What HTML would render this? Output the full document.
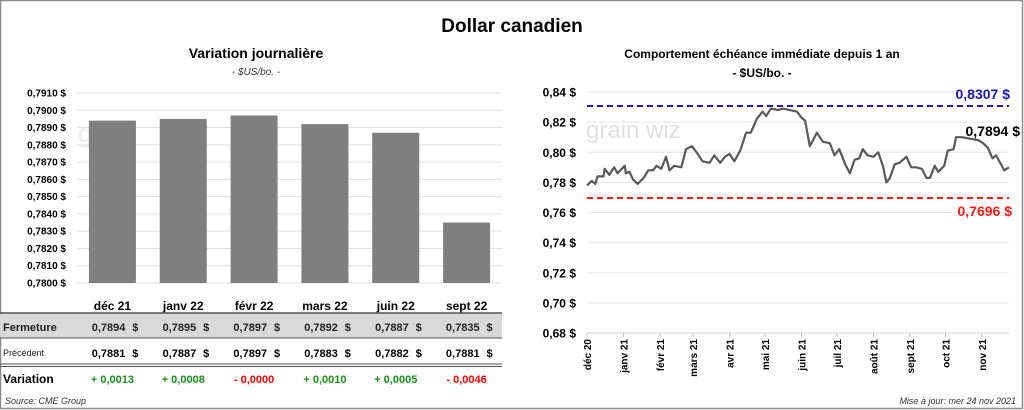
<!DOCTYPE html>
<html><head><meta charset="utf-8"><style>
body{margin:0;background:#fff}
svg{display:block;font-family:"Liberation Sans",sans-serif}
</style></head><body>
<svg id="s" width="1024" height="410" viewBox="0 0 1024 410" xmlns="http://www.w3.org/2000/svg">
<rect x="0.5" y="0.5" width="1022" height="408" fill="#fff" stroke="#8c8c8c" stroke-width="1.5"/>
<text x="512" y="32" font-size="19" font-weight="bold" text-anchor="middle">Dollar canadien</text>
<text x="256" y="58" font-size="14" font-weight="bold" text-anchor="middle">Variation  journalière</text>
<text x="256" y="75" font-size="10" font-style="italic" text-anchor="middle" fill="#333">- $US/bo. -</text>
<text x="762" y="58" font-size="12" font-weight="bold" text-anchor="middle">Comportement échéance immédiate depuis 1 an</text>
<text x="762" y="77" font-size="12" font-weight="bold" text-anchor="middle">- $US/bo. -</text>
<g id="left"></g>
<g id="right"></g>
<text x="5" y="404" font-size="9" font-style="italic" fill="#333">Source: CME Group</text>
<text x="1016" y="404" font-size="9" font-style="italic" fill="#333" text-anchor="end">Mise à jour: mer 24 nov 2021</text>
</svg>
<script>
const barCats=["déc 21","janv 22","févr 22","mars 22","juin 22","sept 22"];
const closeVals=[0.7894,0.7895,0.7897,0.7892,0.7887,0.7835];
const prevVals=[0.7881,0.7887,0.7897,0.7883,0.7882,0.7881];
const varVals=[0.0013,0.0008,-0.0000,0.0010,0.0005,-0.0046];
const barTicks=[0.7800,0.7810,0.7820,0.7830,0.7840,0.7850,0.7860,0.7870,0.7880,0.7890,0.7900,0.7910];
const lineDays=[0,4,7,9,14,15,19,23,26,32,33,36,39,43,48,52,56,59,63,67,70,74,80,84,89,93,98,104,108,113,117,121,125,130,135,139,144,149,152,156,162,166,172,178,182,185,189,195,200,206,210,214,219,223,227,231,234,238,243,247,251,254,257,261,265,271,275,279,284,288,291,295,298,303,306,311,313,318,325,332,336,340,344,347,352,354,358];
const lineVals=[0.778,0.781,0.779,0.784,0.784,0.789,0.785,0.790,0.786,0.791,0.786,0.787,0.782,0.779,0.783,0.788,0.788,0.791,0.789,0.797,0.788,0.791,0.790,0.802,0.804,0.800,0.794,0.793,0.798,0.793,0.797,0.799,0.794,0.801,0.813,0.813,0.822,0.827,0.824,0.829,0.828,0.829,0.828,0.827,0.823,0.821,0.804,0.813,0.807,0.806,0.798,0.802,0.792,0.786,0.795,0.796,0.802,0.798,0.797,0.800,0.791,0.780,0.783,0.792,0.793,0.797,0.790,0.790,0.789,0.783,0.783,0.791,0.787,0.791,0.801,0.802,0.810,0.810,0.809,0.808,0.806,0.803,0.796,0.798,0.791,0.788,0.790];
const lineTicks=[0.68,0.70,0.72,0.74,0.76,0.78,0.80,0.82,0.84];
const monthLabels=["déc 20","janv 21","févr 21","mars 21","avr 21","mai 21","juin 21","juil 21","août 21","sept 21","oct 21","nov 21"];
const monthDays=[0,31,62,90,121,151,182,212,243,274,304,335];
const highVal=0.8307, lowVal=0.7696, lastVal=0.7894;

const NS="http://www.w3.org/2000/svg";
function mk(p,tag,a,t){const e=document.createElementNS(NS,tag);for(const k in a)e.setAttribute(k,a[k]);if(t!=null)e.textContent=t;p.appendChild(e);return e;}
const fmt=(v,d)=>v.toFixed(d).replace('.',',');

const L=document.getElementById('left');
const lx0=77,lx1=502,ly=v=>283-(v-0.78)/0.0110*190;
const step=(lx1-lx0)/barCats.length;
barTicks.forEach(t=>{
 const g=mk(L,'line',{x1:lx0,x2:lx1,y1:ly(t),y2:ly(t),stroke:'#e0e0e0','stroke-width':1});
 
 
 const tx=mk(L,'text',{x:66,y:ly(t)+3.5,'font-size':10,'font-weight':'bold','text-anchor':'end'},fmt(t,4)+' $');
 
 
});
const wm=mk(L,'text',{x:78,y:142,'font-size':26,fill:'#ececec'},'grain');


barCats.forEach((c,i)=>{
 const cx=lx0+step*(i+0.5);
 const b=mk(L,'rect',{x:cx-23.5,y:ly(closeVals[i]),width:47,height:283-ly(closeVals[i]),fill:'#7f7f7f'});
 
 
 const lb=mk(L,'text',{x:cx,y:310,'font-size':12,'font-weight':'bold','text-anchor':'middle'},c);
 
 
});
const gr=mk(L,'rect',{x:0,y:313,width:lx1,height:25,fill:'#d9d9d9'});


[[313,1.5],[338,1],[364,1],[366.5,1]].forEach(([y,w])=>{
 const l=mk(L,'line',{x1:0,x2:lx1,y1:y,y2:y,stroke:'#555','stroke-width':w});
 
 
});
[['Fermeture',331,11,'bold','#1f1f1f'],['Précédent',356,9,'normal','#222'],['Variation',383,12,'bold','#000']].forEach(r=>{
 const t=mk(L,'text',{x:3,y:r[1],'font-size':r[2],'font-weight':r[3],fill:r[4]},r[0]);
 
 
});
barCats.forEach((c,i)=>{
 const cx=lx0+step*(i+0.5);
 const a=mk(L,'text',{x:cx+13,y:331,'font-size':11,'font-weight':'bold','text-anchor':'end',fill:'#222'},fmt(closeVals[i],4));
 
 
 const a2=mk(L,'text',{x:cx+26,y:331,'font-size':11,'font-weight':'bold','text-anchor':'end',fill:'#222'},'$');
 
 
 const p=mk(L,'text',{x:cx+13,y:357,'font-size':11,'font-weight':'bold','text-anchor':'end'},fmt(prevVals[i],4));
 
 
 const p2=mk(L,'text',{x:cx+26,y:357,'font-size':11,'font-weight':'bold','text-anchor':'end'},'$');
 
 
 const d=varVals[i];
 const pos=d>0;
 const v=mk(L,'text',{x:cx,y:383,'font-size':11,'font-weight':'bold','text-anchor':'middle',fill:pos?'#1e8c1e':'#ff0000'},(pos?'+ ':'- ')+fmt(Math.abs(d),4));
 
 
});

const R=document.getElementById('right');
const rx0=587,rx1=1009,ry=v=>333-(v-0.68)/0.16*241,rxd=d=>rx0+d/358*(rx1-rx0);
lineTicks.forEach(t=>{
 const g=mk(R,'line',{x1:rx0,x2:rx1,y1:ry(t),y2:ry(t),stroke:t===0.68?'#d0d0d0':'#e6e6e6','stroke-width':1});
 
 
 const tx=mk(R,'text',{x:576,y:ry(t)+4.5,'font-size':12,'font-weight':'bold','text-anchor':'end'},fmt(t,2)+' $');
 
 
});
const wm2=mk(R,'text',{x:586,y:138,'font-size':24,fill:'#e0e0e0'},'grain wiz');


monthLabels.forEach((m,i)=>{
 const x=rxd(monthDays[i]);
 const tk=mk(R,'line',{x1:x,x2:x,y1:333,y2:337,stroke:'#bbb'});
 
 
 const t=mk(R,'text',{x:0,y:0,'font-size':10,'font-weight':'bold','text-anchor':'end',transform:`translate(${x+4},339) rotate(-90)`},m);
 
 
});
const hl=mk(R,'line',{x1:rx0,x2:rx1,y1:ry(highVal),y2:ry(highVal),stroke:'#1a1aaa','stroke-width':2,'stroke-dasharray':'6,4'});


const ll=mk(R,'line',{x1:rx0,x2:rx1,y1:ry(lowVal),y2:ry(lowVal),stroke:'#ff1a1a','stroke-width':2,'stroke-dasharray':'6,4'});


const pts=lineDays.map((d,i)=>rxd(d).toFixed(1)+','+ry(lineVals[i]).toFixed(1)).join(' ');
const pl=mk(R,'polyline',{points:pts,fill:'none',stroke:'#595959','stroke-width':2.2,'stroke-linejoin':'round'});


const ht=mk(R,'text',{x:1010,y:99,'font-size':14,'font-weight':'bold','text-anchor':'end',fill:'#1a1aaa'},fmt(highVal,4)+' $');


const lt=mk(R,'text',{x:1012,y:216,'font-size':14,'font-weight':'bold','text-anchor':'end',fill:'#ff1a1a'},fmt(lowVal,4)+' $');


const lv=mk(R,'text',{x:1020,y:136,'font-size':14,'font-weight':'bold','text-anchor':'end'},fmt(lastVal,4)+' $');


</script>
</body></html>
